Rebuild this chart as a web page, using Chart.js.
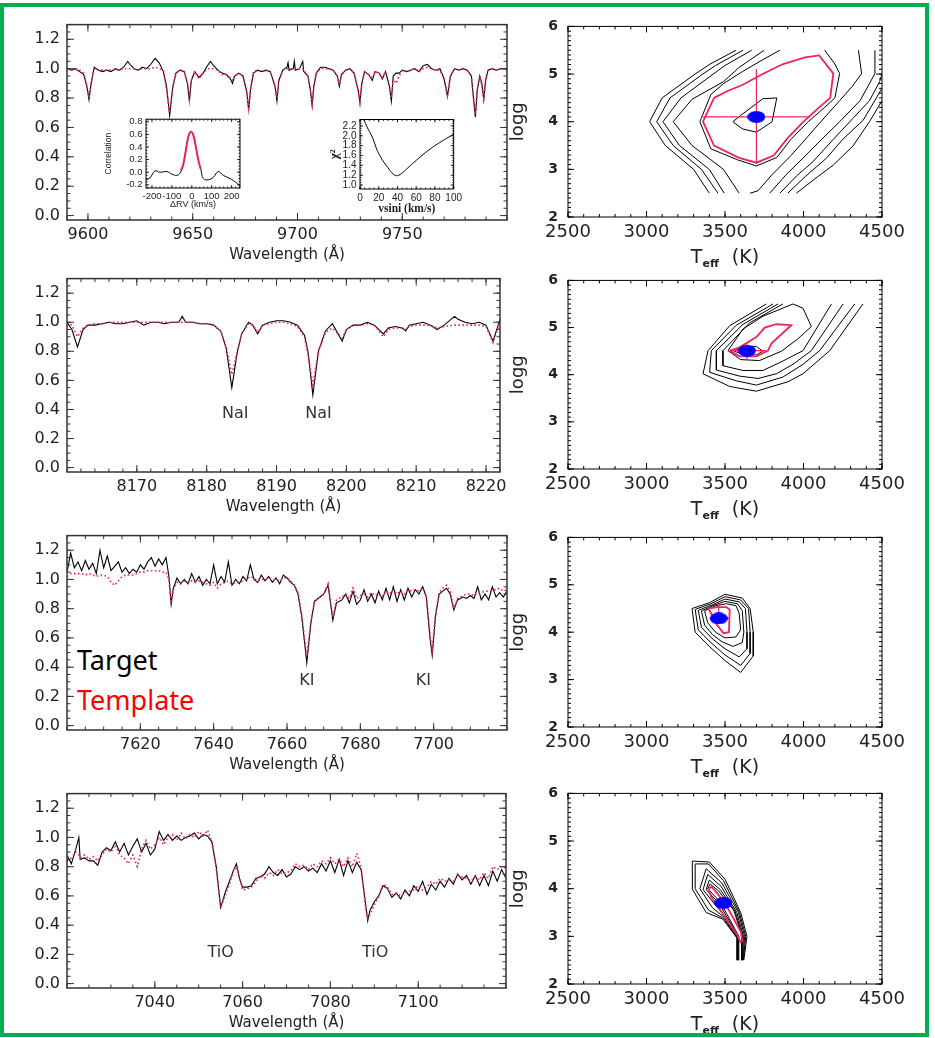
<!DOCTYPE html>
<html>
<head>
<meta charset="utf-8">
<script src="https://cdn.jsdelivr.net/npm/chart.js@4.4.0/dist/chart.umd.min.js"></script>
<style>
  body { margin: 0; background: #fff; width: 935px; height: 1038px; position: relative; overflow: hidden; }
  canvas { position: absolute; }
  #frame { position: absolute; left: 0; top: 3px; width: 929px; height: 1034px; box-sizing: border-box;
           border: 4px solid #00b050; pointer-events: none; }
  .tag { position: absolute; left: 77px; font-family: "Noto Sans", sans-serif; font-size: 27px; line-height: 27px; }
</style>
</head>
<body>
<div class="tag" style="top:646px;color:#000">Target</div>
<div class="tag" style="top:686px;color:#ff0000">Template</div>
<script>
const RED = '#f0245a';
const INK = '#222';
const SANS = '"DejaVu Sans", sans-serif';

// ---- spectrum 1 : 9590-9800 A ----
const p1Wave = [
  9590.5,9592,9594,9596,9598,9599.5,9600.5,9601.5,9603,9605,
  9607,9609,9611,9613,9615,9617,9619,9620,9622,9624,
  9626,9628,9630,9632,9634,9636,9637.5,9639,9640.5,9642,
  9644,9646,9647.5,9648.4,9649.3,9651,9653,9655,9657,9658.5,
  9660,9662,9664,9666,9668,9669,9670,9672,9674,9675.8,
  9676.7,9677.6,9679,9681,9683,9685,9687,9689.3,9690.2,9691.1,
  9693,9695,9695.5,9696,9698,9698.5,9699,9701,9702.5,9703,
  9705,9706.2,9707,9707.8,9709,9711,9713,9715,9717,9719,
  9720,9721,9723,9725,9727,9728.9,9729.8,9730.7,9732,9734,
  9735.7,9737,9739,9740.5,9742,9743.9,9744.8,9745.7,9747,9748.5,
  9750,9752,9754,9756,9758,9760,9762,9764,9766,9768,
  9770,9771.6,9773,9775,9777,9779,9781,9783,9784,9784.9,
  9785.8,9787,9788,9788.9,9789.8,9791,9793,9795,9797,9799,
  9800];
const p1Target = [
  1.00,0.99,1.00,0.98,0.96,0.88,0.79,0.90,1.01,0.99,
  0.98,0.99,0.98,1.00,0.99,1.01,1.05,1.03,1.00,0.99,
  1.01,1.00,1.03,1.07,1.04,0.98,0.88,0.68,0.88,0.97,
  0.99,0.98,0.90,0.78,0.92,0.98,0.94,0.97,1.02,1.05,
  1.02,0.99,0.97,0.96,0.93,0.90,0.95,0.97,0.95,0.84,
  0.72,0.86,0.97,0.99,0.98,0.99,0.98,0.88,0.78,0.92,
  0.99,1.01,1.04,0.99,1.00,1.05,0.99,1.00,1.05,0.98,
  0.95,0.85,0.75,0.88,0.97,1.01,1.01,1.00,0.99,0.95,
  0.88,0.96,0.99,1.00,0.97,0.86,0.77,0.90,0.98,0.96,
  0.92,0.98,0.97,0.93,0.98,0.88,0.78,0.95,0.97,0.97,
  0.99,0.98,0.99,1.00,0.98,1.02,1.03,1.00,0.99,1.00,
  0.93,0.81,0.95,1.00,0.99,1.00,0.99,0.95,0.80,0.67,
  0.85,0.95,0.90,0.79,0.92,0.99,1.00,0.99,1.00,1.00,
  0.99];
const p1Template = [
  1.00,0.99,1.00,0.99,0.97,0.88,0.80,0.90,1.00,0.99,
  0.99,0.99,0.99,0.99,0.99,1.00,1.00,1.00,1.00,0.99,
  1.00,1.00,1.00,1.01,1.00,0.99,0.86,0.70,0.87,0.97,
  0.99,0.98,0.90,0.79,0.92,0.98,0.93,0.97,1.00,1.00,
  1.00,0.99,0.96,0.96,0.94,0.92,0.95,0.97,0.95,0.84,
  0.73,0.86,0.98,0.99,0.98,0.99,0.98,0.88,0.80,0.92,
  0.99,1.00,1.00,1.00,1.00,1.00,1.00,1.00,1.00,0.99,
  0.95,0.85,0.76,0.88,0.97,1.00,1.00,1.00,0.99,0.95,
  0.89,0.96,0.99,1.00,0.97,0.86,0.77,0.90,0.98,0.96,
  0.93,0.98,0.97,0.94,0.98,0.87,0.80,0.93,0.90,0.95,
  0.99,0.98,0.99,1.00,0.98,1.00,1.01,1.00,0.99,0.99,
  0.93,0.82,0.95,1.00,0.99,1.00,0.99,0.95,0.80,0.69,
  0.86,0.95,0.88,0.80,0.92,0.99,1.00,0.99,1.00,1.00,
  1.00];
const p1Ticks = [9600, 9650, 9700, 9750];

// ---- spectrum 2 : Na I doublet ----
const p2Wave = [
  8160,8160.7,8161.5,8162.3,8163,8164,8165,8166,8167,8168,
  8169,8170,8171,8172,8173,8174,8175,8176,8176.5,8177,
  8178,8179,8180,8181,8182,8182.8,8183.6,8184.4,8185,8186,
  8186.6,8187.3,8188,8189,8190,8191,8192,8193,8194,8194.5,
  8195.2,8196,8197,8198,8199.4,8200,8201,8202,8203,8204,
  8205.3,8206,8207,8208,8208.5,8209,8210,8211,8212,8213,
  8214,8215.5,8216,8217,8218,8219,8220,8221,8222];
const p2Target = [
  1.00,0.95,0.83,0.95,0.98,0.98,0.99,1.00,0.99,0.99,
  1.00,1.01,0.98,1.00,1.00,0.99,1.00,1.00,1.04,1.00,
  1.00,0.99,0.99,0.98,0.94,0.82,0.55,0.80,0.92,1.00,
  0.98,0.92,0.98,1.00,1.01,1.01,1.00,0.98,0.91,0.80,
  0.50,0.80,0.94,0.99,0.87,0.95,0.98,0.98,1.00,0.98,
  0.92,0.96,0.97,0.96,0.94,0.98,0.99,1.00,0.98,0.95,
  0.98,1.04,1.02,1.00,0.99,1.00,0.98,0.87,1.02];
const p2Template = [
  1.00,0.98,0.90,0.96,0.98,0.99,0.99,1.00,1.00,1.00,
  1.00,1.00,1.00,1.00,1.00,1.00,1.00,1.00,1.00,1.00,
  1.00,0.99,0.99,0.98,0.94,0.83,0.64,0.80,0.92,0.99,
  0.98,0.93,0.98,0.99,1.00,1.00,0.99,0.97,0.90,0.78,
  0.57,0.80,0.93,0.96,0.89,0.95,0.98,0.98,0.99,0.98,
  0.90,0.95,0.96,0.96,0.95,0.97,0.98,0.98,0.98,0.96,
  0.97,0.98,0.98,0.98,0.98,0.98,0.97,0.86,1.00];
const p2Ticks = [8170, 8180, 8190, 8200, 8210, 8220];
const p2Notes = [['NaI', 8184.1, 0.37], ['NaI', 8196.0, 0.37]];

// ---- spectrum 3 : K I doublet ----
const p3Wave = [
  7600,7601,7602,7603,7604,7605,7606,7607,7608,7609,
  7610,7611,7612,7613,7614,7615,7616,7617,7618,7619,
  7620,7621,7622,7623,7624,7625,7626,7627,7627.8,7628.4,
  7629,7630,7631,7632,7633,7634,7635,7636,7637,7638,
  7639,7640,7641,7642,7643,7644,7645,7646,7647,7648,
  7649,7650,7651,7652,7653,7654,7655,7656,7657,7658,
  7659,7660,7661,7662,7663,7664,7665.4,7666.5,7667.5,7669,
  7670,7671.2,7672.5,7673.5,7675,7676,7677,7678,7679,7680,
  7681,7682,7683,7684,7685,7686,7687,7688,7689,7690,
  7691,7692,7693,7694,7695,7696,7697,7698,7699,7699.6,
  7700.5,7701.5,7702.5,7703.5,7704.5,7705.5,7706.5,7708,7709,7710,
  7711,7712,7713,7714,7715,7716,7717,7718,7719,7720];
const p3Target = [
  1.05,1.18,1.08,1.12,1.06,1.13,1.07,1.11,1.04,1.20,
  1.08,1.16,1.06,1.09,1.12,1.05,1.08,1.04,1.07,1.05,
  1.10,1.07,1.12,1.15,1.09,1.14,1.10,1.15,1.02,0.83,
  0.94,1.01,0.97,1.00,0.97,1.04,0.98,1.02,0.96,1.00,
  0.97,1.10,0.97,1.02,0.98,1.12,0.96,1.00,0.97,1.02,
  0.99,1.10,1.00,0.98,1.03,0.99,1.02,0.98,1.01,0.97,
  1.03,1.01,0.98,0.96,0.90,0.75,0.43,0.70,0.85,0.88,
  0.90,0.96,0.72,0.84,0.86,0.90,0.84,0.92,0.83,0.86,
  0.93,0.85,0.90,0.84,0.92,0.86,0.94,0.86,0.95,0.85,
  0.93,0.86,0.94,0.88,0.93,0.90,0.95,0.88,0.60,0.48,
  0.75,0.90,0.92,0.94,0.90,0.79,0.86,0.88,0.87,0.89,
  0.87,0.95,0.86,0.90,0.86,0.95,0.88,0.91,0.88,0.92];
const p3Template = [
  1.02,1.04,1.04,1.04,1.04,1.03,1.04,1.03,1.02,1.03,
  1.03,1.02,0.98,0.96,0.99,1.02,1.03,1.03,1.03,1.04,
  1.05,1.05,1.06,1.06,1.06,1.06,1.05,1.05,1.00,0.84,
  0.93,0.98,0.97,0.99,0.98,0.99,0.98,0.99,0.98,0.97,
  0.96,0.98,0.94,0.97,0.98,0.99,0.97,0.98,0.98,0.99,
  1.00,1.02,1.01,0.99,1.00,1.00,1.01,1.00,1.00,0.99,
  1.01,1.01,0.99,0.96,0.91,0.76,0.47,0.71,0.85,0.88,
  0.90,0.97,0.74,0.86,0.88,0.90,0.87,0.94,0.87,0.89,
  0.90,0.88,0.91,0.89,0.90,0.88,0.92,0.90,0.93,0.90,
  0.92,0.90,0.93,0.92,0.93,0.92,0.94,0.89,0.62,0.52,
  0.76,0.91,0.94,0.96,0.92,0.80,0.87,0.89,0.90,0.90,
  0.89,0.91,0.91,0.92,0.92,0.93,0.93,0.94,0.92,0.93];
const p3Ticks = [7620, 7640, 7660, 7680, 7700];
const p3Notes = [['KI', 7665.4, 0.305], ['KI', 7697.2, 0.305]];

// ---- spectrum 4 : TiO band heads ----
const p4Wave = [
  7020,7021,7022,7022.7,7023,7024,7025,7026,7027,7028,
  7029,7030,7031,7032,7033,7034,7035,7036,7037,7038,
  7039,7040,7041,7042,7043,7044,7045,7046,7047,7048,
  7049,7050,7051,7052,7053,7054,7055,7056,7057,7058,
  7058.6,7059.3,7060,7061,7062,7063,7064,7065,7066,7067,
  7068,7069,7070,7071,7072,7073,7074,7075,7076,7077,
  7078,7079,7080,7081,7082,7083,7084,7085,7086,7087,
  7088,7088.5,7089,7090,7091,7092,7093,7094,7095,7096,
  7097,7098,7099,7100,7101,7102,7103,7104,7105,7106,
  7107,7108,7109,7110,7111,7112,7113,7114,7115,7116,
  7117,7118,7119,7120];
const p4Target = [
  0.88,0.82,0.92,1.00,0.85,0.86,0.84,0.84,0.81,0.90,
  0.93,0.91,0.97,0.90,0.96,0.88,0.94,0.99,0.90,0.96,
  0.88,0.92,1.04,0.98,1.02,0.98,1.01,0.98,1.00,1.01,
  1.03,0.99,1.02,1.01,0.97,0.80,0.52,0.62,0.70,0.78,
  0.82,0.72,0.66,0.66,0.67,0.72,0.73,0.75,0.80,0.76,
  0.74,0.78,0.73,0.75,0.80,0.78,0.80,0.77,0.79,0.76,
  0.82,0.77,0.84,0.76,0.85,0.74,0.84,0.76,0.83,0.78,
  0.55,0.43,0.50,0.56,0.60,0.67,0.65,0.59,0.62,0.58,
  0.64,0.60,0.67,0.63,0.70,0.61,0.68,0.64,0.70,0.66,
  0.72,0.68,0.75,0.71,0.74,0.68,0.74,0.67,0.74,0.67,
  0.77,0.70,0.78,0.72];
const p4Template = [
  0.84,0.86,0.90,0.88,0.86,0.88,0.85,0.87,0.84,0.88,
  0.92,0.90,0.95,0.88,0.86,0.82,0.88,0.80,0.92,0.98,
  0.92,0.95,1.00,0.95,1.00,1.02,0.98,1.03,0.99,1.02,
  1.00,1.04,1.01,1.05,0.97,0.78,0.52,0.60,0.68,0.78,
  0.80,0.72,0.64,0.65,0.66,0.70,0.74,0.72,0.76,0.74,
  0.78,0.75,0.76,0.77,0.82,0.80,0.81,0.78,0.82,0.80,
  0.84,0.82,0.86,0.82,0.85,0.80,0.86,0.80,0.89,0.80,
  0.52,0.45,0.47,0.54,0.60,0.68,0.66,0.61,0.62,0.60,
  0.62,0.63,0.64,0.67,0.64,0.66,0.70,0.68,0.72,0.70,
  0.71,0.70,0.74,0.73,0.72,0.70,0.73,0.71,0.76,0.72,
  0.80,0.78,0.80,0.79];
const p4Ticks = [7040, 7060, 7080, 7100];
const p4Notes = [['TiO', 7055.0, 0.21], ['TiO', 7090.2, 0.21]];

const fluxTicks = [0, 0.2, 0.4, 0.6, 0.8, 1.0, 1.2];

// ---- insets of panel 1 ----
const rvX = [-230,-210,-185,-160,-125,-100,-75,-58,-50,-40,-30,-20,-10,-3,5,15,25,35,45,58,83,108,133,158,192,225,242];
const rvCorr = [-0.12,-0.09,0.02,0.0,0.01,-0.03,-0.05,-0.01,0.05,0.17,0.35,0.53,0.63,0.64,0.61,0.49,0.32,0.16,0.05,-0.10,-0.12,-0.08,0.01,-0.05,-0.10,-0.17,-0.22];
const fitX = [-55,-45,-35,-25,-15,-5,5,15,25,35,45];
const fitCorr = [0.03,0.10,0.25,0.44,0.59,0.64,0.61,0.49,0.32,0.16,0.05];
const vsiniX = [4,8,13,18,22,26,30,34,39,44,50,60,70,80,90,100];
const chi2 = [2.33,2.16,1.98,1.72,1.57,1.45,1.35,1.25,1.19,1.23,1.33,1.50,1.66,1.80,1.92,2.03];

// ---- Teff / logg chi2 maps: contour polylines [Teff, logg] ----
const teffTicks = [2500, 3000, 3500, 4000, 4500];
const loggTicks = [2, 3, 4, 5, 6];

const r1Black = [
  [[3570,5.5],[3400,5.2],[3310,5.0],[3100,4.5],[3020,4.0],[3120,3.5],[3300,3.0],[3400,2.5]],
  [[3615,5.5],[3440,5.18],[3350,4.98],[3150,4.5],[3065,4.0],[3170,3.5],[3350,3.0],[3455,2.5]],
  [[3670,5.5],[3500,5.18],[3400,4.94],[3220,4.5],[3105,4.0],[3210,3.5],[3400,3.0],[3495,2.5]],
  [[3750,5.5],[3590,5.14],[3490,4.84],[3290,4.47],[3170,4.0],[3290,3.5],[3490,3.0],[3590,2.5]],
  [[3850,5.5],[3740,5.3],[3610,5.05],[3490,4.8],[3410,4.57],[3340,4.0],[3410,3.43],[3580,3.2],[3700,3.07],[3830,3.25],[3920,3.63],[4030,4.0],[4135,4.3],[4200,4.5],[4230,5.01],[4200,5.21],[4135,5.5]],
  [[3550,4.0],[3615,4.17],[3740,4.48],[3830,4.5],[3800,4.0],[3700,3.78],[3610,3.85],[3550,4.0]],
  [[3660,2.5],[3710,2.55],[3800,2.89],[3920,3.29],[4020,3.66],[4110,4.0],[4230,4.44],[4310,4.74],[4370,5.01],[4350,5.5]],
  [[3785,2.5],[3890,2.89],[3995,3.23],[4125,3.66],[4230,4.0],[4360,4.44],[4455,5.01],[4455,5.5]],
  [[3850,2.5],[3955,2.86],[4060,3.16],[4190,3.63],[4315,4.07],[4420,4.44],[4485,4.84],[4500,5.01]],
  [[3900,2.5],[4015,2.86],[4145,3.23],[4250,3.63],[4380,4.03],[4500,4.7]],
  [[3955,2.5],[4080,2.82],[4190,3.09],[4315,3.49],[4420,4.0],[4500,4.44]]
];
const r1Red = [[3430,4.5],[3360,4.0],[3430,3.5],[3590,3.24],[3700,3.14],[3810,3.29],[3900,3.66],[4000,4.0],[4100,4.3],[4170,4.5],[4190,5.01],[4100,5.39],[4010,5.35],[3870,5.21],[3740,5.0],[3610,4.77],[3520,4.65],[3430,4.5]];
const r1Cross = [[[3700,3.12],[3700,5.1]], [[3360,4.1],[4040,4.1]]];
const r1Best = [3700, 4.1];

const r2Black = [
  [[3763,5.5],[3530,5.04],[3392,4.51],[3360,4.02],[3530,3.75],[3700,3.65],[3901,3.85],[3997,4.02],[4167,4.51],[4379,5.5]],
  [[3806,5.5],[3572,5.05],[3413,4.51],[3402,4.05],[3572,3.87],[3700,3.78],[3869,3.95],[3997,4.22],[4103,4.51],[4326,5.5]],
  [[3838,5.5],[3615,5.07],[3445,4.51],[3445,4.1],[3593,3.97],[3710,3.92],[3827,4.02],[3933,4.22],[4050,4.51],[4252,5.5]],
  [[3869,5.5],[3657,5.1],[3487,4.51],[3487,4.19],[3615,4.09],[3742,4.09],[3869,4.29],[3997,4.51],[4178,5.5]],
  [[3933,5.5],[3742,5.24],[3615,4.97],[3519,4.51],[3600,4.32],[3720,4.3],[3860,4.5],[3960,4.75],[4050,5.02],[3997,5.41],[3933,5.5]],
  [[3560,4.5],[3620,4.6],[3700,4.6],[3740,4.5],[3700,4.42],[3620,4.42],[3560,4.5]]
];
const r2Red = [[3530,4.51],[3593,4.58],[3700,4.8],[3753,5.0],[3827,5.07],[3922,5.05],[3795,4.66],[3774,4.51],[3700,4.39],[3593,4.39],[3530,4.51]];
const r2Cross = [[[3640,4.33],[3640,4.67]], [[3530,4.51],[3760,4.51]]];
const r2Best = [3640, 4.51];

const r3Black = [
  [[3290,4.5],[3400,4.62],[3500,4.8],[3610,4.72],[3660,4.5],[3680,4.0],[3680,3.5],[3600,3.15],[3500,3.4],[3400,3.7],[3310,4.0],[3290,4.5]],
  [[3310,4.48],[3410,4.6],[3500,4.75],[3600,4.68],[3650,4.5],[3660,4.0],[3660,3.55],[3600,3.3],[3500,3.52],[3410,3.78],[3330,4.05],[3310,4.48]],
  [[3330,4.46],[3420,4.58],[3500,4.7],[3590,4.64],[3630,4.5],[3640,4.0],[3640,3.65],[3590,3.48],[3500,3.65],[3420,3.86],[3350,4.1],[3330,4.46]],
  [[3350,4.45],[3430,4.57],[3500,4.65],[3580,4.6],[3610,4.45],[3620,4.0],[3610,3.78],[3550,3.7],[3480,3.8],[3420,3.95],[3370,4.15],[3350,4.45]],
  [[3370,4.45],[3440,4.56],[3510,4.6],[3570,4.56],[3590,4.4],[3600,4.05],[3570,3.9],[3500,3.88],[3440,4.0],[3390,4.2],[3370,4.45]]
];
const r3Red = [[3395,4.5],[3450,4.53],[3510,4.53],[3530,4.47],[3525,4.0],[3490,3.98],[3450,4.15],[3395,4.5]];
const r3Cross = [[[3460,4.17],[3460,4.59]], [[3400,4.29],[3530,4.29]]];
const r3Best = [3460, 4.29];

const r4Black = [
  [[3575,2.5],[3575,2.97],[3487,3.36],[3380,3.5],[3290,4.0],[3292,4.58],[3400,4.56],[3500,4.2],[3600,3.5],[3640,3.0],[3620,2.5]],
  [[3578,2.5],[3578,2.97],[3490,3.38],[3395,3.55],[3310,4.0],[3310,4.52],[3395,4.52],[3490,4.17],[3592,3.5],[3632,3.0],[3617,2.5]],
  [[3580,2.5],[3580,2.98],[3495,3.4],[3420,3.6],[3340,4.0],[3380,4.42],[3480,4.12],[3585,3.5],[3625,3.0],[3614,2.5]],
  [[3582,2.5],[3582,2.98],[3500,3.42],[3440,3.65],[3360,3.98],[3390,4.3],[3475,4.05],[3575,3.5],[3618,3.0],[3611,2.5]],
  [[3584,2.5],[3584,3.0],[3505,3.45],[3460,3.7],[3380,3.98],[3400,4.18],[3470,3.98],[3565,3.52],[3612,3.0],[3608,2.5]],
  [[3586,2.5],[3588,3.0],[3510,3.48],[3470,3.72],[3390,4.0],[3405,4.1],[3460,3.95],[3555,3.55],[3605,3.05],[3605,2.5]]
];
const r4Red = [[3395,4.0],[3415,4.04],[3500,3.7],[3600,3.1],[3612,2.9],[3598,2.88],[3580,3.02],[3497,3.42],[3412,3.83],[3395,4.0]];
const r4Cross = [[[3490,3.55],[3490,3.85]], [[3440,3.7],[3540,3.7]]];
const r4Best = [3490, 3.7];

// ---------------------------------------------------------------

function place(left, top, w, h) {
  const c = document.createElement('canvas');
  c.width = w; c.height = h;
  c.style.left = left + 'px';
  c.style.top = top + 'px';
  document.body.appendChild(c);
  return c;
}

function pts(xs, ys) { return xs.map((x, i) => ({x: x, y: ys[i]})); }
function pairs(list) { return list.map(p => ({x: p[0], y: p[1]})); }

// box with inward major/minor ticks on all four sides, IDL style
const idlFrame = {
  id: 'idlFrame',
  afterDatasetsDraw(chart, args, o) {
    const ctx = chart.ctx, a = chart.chartArea;
    const x = chart.scales.x, y = chart.scales.y;
    const each = (s, step, fn) => {
      for (let k = Math.ceil(s.min / step - 1e-6); k * step <= s.max + 1e-6; k++) fn(k * step);
    };
    const xt = (v, len) => {
      const p = x.getPixelForValue(v);
      ctx.moveTo(p, a.bottom); ctx.lineTo(p, a.bottom - len);
      ctx.moveTo(p, a.top); ctx.lineTo(p, a.top + len);
    };
    const yt = (v, len) => {
      const p = y.getPixelForValue(v);
      ctx.moveTo(a.left, p); ctx.lineTo(a.left + len, p);
      ctx.moveTo(a.right, p); ctx.lineTo(a.right - len, p);
    };
    ctx.save();
    ctx.strokeStyle = o.color;
    ctx.lineWidth = o.tickWidth;
    ctx.beginPath();
    each(x, o.xMinor, v => xt(v, o.minor));
    each(y, o.yMinor, v => yt(v, o.minor));
    x.ticks.forEach(t => xt(t.value, o.major));
    y.ticks.forEach(t => yt(t.value, o.major));
    ctx.stroke();
    ctx.lineWidth = o.width;
    ctx.strokeRect(a.left, a.top, a.width, a.height);
    ctx.restore();
  }
};

function notes(items) {
  return {
    id: 'notes',
    afterDatasetsDraw(chart) {
      const ctx = chart.ctx, x = chart.scales.x, y = chart.scales.y;
      ctx.save();
      ctx.fillStyle = '#333';
      ctx.font = '16px ' + SANS;
      ctx.textAlign = 'center';
      ctx.textBaseline = 'middle';
      items.forEach(n => ctx.fillText(n[0], x.getPixelForValue(n[1]), y.getPixelForValue(n[2])));
      ctx.restore();
    }
  };
}

// "T_eff (K)" with a subscript, under the right-hand maps
const teffTitle = {
  id: 'teffTitle',
  afterDraw(chart) {
    const ctx = chart.ctx, a = chart.chartArea;
    const base = a.bottom + 46, cx = (a.left + a.right) / 2;
    const big = '19px ' + SANS, small = 'bold 11px ' + SANS, gap = 13;
    ctx.save();
    ctx.fillStyle = INK;
    ctx.font = big;
    const wT = ctx.measureText('T').width, wK = ctx.measureText('(K)').width;
    ctx.font = small;
    const wE = ctx.measureText('eff').width;
    const x0 = cx - (wT + wE + gap + wK) / 2;
    ctx.font = big; ctx.fillText('T', x0, base);
    ctx.font = small; ctx.fillText('eff', x0 + wT, base + 4);
    ctx.font = big; ctx.fillText('(K)', x0 + wT + wE + gap, base);
    ctx.restore();
  }
};

function axis(o) {
  return {
    type: 'linear', min: o.min, max: o.max,
    grid: {display: false, drawTicks: false}, border: {display: false},
    afterBuildTicks: s => { s.ticks = o.ticks.map(v => ({value: v})); },
    afterFit: s => { if (o.w !== undefined) s.width = o.w; if (o.h !== undefined) s.height = o.h; },
    ticks: {autoSkip: false, maxRotation: 0, padding: o.pad, color: INK, font: o.font, callback: o.fmt},
    title: o.title ? {display: true, text: o.title, color: INK, font: o.titleFont, padding: 0} : {display: false}
  };
}

function baseOptions(pad, x, y, frame) {
  return {
    responsive: false, animation: false, devicePixelRatio: 1,
    layout: {padding: {left: 0, bottom: 0, top: pad[0], right: pad[1]}},
    elements: {point: {radius: 0}, line: {tension: 0}},
    plugins: {legend: {display: false}, tooltip: {enabled: false}, idlFrame: frame},
    scales: {x: x, y: y}
  };
}

function spectrum(box, range, xTicks, xMinor, wave, target, template, labels) {
  const canvas = place(0, box.top, 520, box.pt + box.plotH + 44);
  const plugins = [idlFrame];
  if (labels) plugins.push(notes(labels));
  return new Chart(canvas, {
    type: 'scatter',
    data: {datasets: [
      {data: pts(wave, template), showLine: true, borderColor: RED, borderWidth: 1.6, borderDash: [1.6, 2.4]},
      {data: pts(wave, target), showLine: true, borderColor: '#000', borderWidth: 1.1}
    ]},
    options: baseOptions([box.pt, box.pr],
      axis({min: range[0], max: range[1], ticks: xTicks, h: 44, pad: 5, font: {family: SANS, size: 16},
            fmt: v => String(v), title: 'Wavelength (Å)', titleFont: {family: SANS, size: 15}}),
      axis({min: -0.03, max: 1.3, ticks: fluxTicks, w: 67, pad: 7, font: {family: SANS, size: 16},
            fmt: v => v.toFixed(1)}),
      {color: '#333', width: 1.5, tickWidth: 1, major: 7, minor: 3.5, xMinor: xMinor, yMinor: 0.05}),
    plugins: plugins
  });
}

// filled blue ellipse used as the best-fit marker
const dot = document.createElement('canvas');
dot.width = 18; dot.height = 12;
const dctx = dot.getContext('2d');
dctx.fillStyle = '#0000ff';
dctx.beginPath();
dctx.ellipse(9, 6, 9, 6, 0, 0, Math.PI * 2);
dctx.fill();

function gridMap(box, lines, red, cross, best) {
  const canvas = place(508, box.top, 425, box.pt + box.plotH + 52);
  const sets = [{data: [{x: best[0], y: best[1]}], pointStyle: dot, pointRadius: 6, showLine: false}];
  cross.forEach(seg => sets.push({data: pairs(seg), showLine: true, borderColor: RED, borderWidth: 1.2}));
  sets.push({data: pairs(red), showLine: true, borderColor: RED, borderWidth: 1.8});
  lines.forEach(l => sets.push({data: pairs(l), showLine: true, borderColor: '#000', borderWidth: 1}));
  return new Chart(canvas, {
    type: 'scatter',
    data: {datasets: sets},
    options: baseOptions([box.pt, 51],
      axis({min: 2500, max: 4500, ticks: teffTicks, h: 52, pad: 5, font: {family: SANS, size: 18},
            fmt: v => String(v)}),
      axis({min: 2, max: 6, ticks: loggTicks, w: 60, pad: 10, font: {family: SANS, size: 14, weight: 'bold'},
            fmt: v => String(v), title: 'logg', titleFont: {family: SANS, size: 18}}),
      {color: '#000', width: 1, tickWidth: 1, major: 6, minor: 3, xMinor: 100, yMinor: 0.1}),
    plugins: [idlFrame, teffTitle]
  });
}

spectrum({top: 8, pt: 11, plotH: 201, pr: 13}, [9590, 9800], p1Ticks, 10, p1Wave, p1Target, p1Template);
spectrum({top: 262, pt: 10, plotH: 200, pr: 20}, [8160, 8222], p2Ticks, 2, p2Wave, p2Target, p2Template, p2Notes);
spectrum({top: 519, pt: 10, plotH: 201, pr: 13}, [7600, 7720], p3Ticks, 5, p3Wave, p3Target, p3Template, p3Notes);
spectrum({top: 777, pt: 10, plotH: 201, pr: 14}, [7020, 7120], p4Ticks, 5, p4Wave, p4Target, p4Template, p4Notes);

gridMap({top: 8, pt: 11, plotH: 198}, r1Black, r1Red, r1Cross, r1Best);
gridMap({top: 262, pt: 11, plotH: 196}, r2Black, r2Red, r2Cross, r2Best);
gridMap({top: 519, pt: 10, plotH: 198}, r3Black, r3Red, r3Cross, r3Best);
gridMap({top: 775, pt: 10, plotH: 199}, r4Black, r4Red, r4Cross, r4Best);

const SMALL = '"Liberation Sans", sans-serif';
const SERIF = '"Liberation Serif", serif';

// cross-correlation inset
new Chart(place(104, 110, 144, 100), {
  type: 'scatter',
  data: {datasets: [
    {data: pts(fitX, fitCorr), showLine: true, borderColor: RED, borderWidth: 2, tension: 0.4},
    {data: pts(rvX, rvCorr), showLine: true, borderColor: '#000', borderWidth: 1, tension: 0.4}
  ]},
  options: baseOptions([7, 8],
    axis({min: -230, max: 242, ticks: [-200, -100, 0, 100, 200], h: 22, pad: 3,
          font: {family: SMALL, size: 9.5}, fmt: v => String(v),
          title: 'ΔRV (km/s)', titleFont: {family: SMALL, size: 9}}),
    axis({min: -0.25, max: 0.84, ticks: [-0.2, 0, 0.2, 0.4, 0.6, 0.8], w: 42, pad: 3.5,
          font: {family: SMALL, size: 9.5}, fmt: v => v.toFixed(1),
          title: 'Correlation', titleFont: {family: SMALL, size: 8.5}}),
    {color: '#000', width: 1, tickWidth: 0.8, major: 3, minor: 1.5, xMinor: 20, yMinor: 0.05}),
  plugins: [idlFrame]
});

// vsini chi-square inset
new Chart(place(327, 110, 138, 106), {
  type: 'scatter',
  data: {datasets: [
    {data: pts(vsiniX, chi2), showLine: true, borderColor: '#000', borderWidth: 1, tension: 0.4}
  ]},
  options: baseOptions([7, 10],
    axis({min: 0, max: 100, ticks: [0, 20, 40, 60, 80, 100], h: 27, pad: 3,
          font: {family: SMALL, size: 10}, fmt: v => String(v),
          title: 'vsini (km/s)', titleFont: {family: SERIF, size: 11.5, weight: 'bold'}}),
    axis({min: 0.92, max: 2.33, ticks: [1.0, 1.2, 1.4, 1.6, 1.8, 2.0, 2.2], w: 33, pad: 3.5,
          font: {family: SMALL, size: 10}, fmt: v => v.toFixed(1),
          title: 'χ²', titleFont: {family: SERIF, size: 13, weight: 'bold'}}),
    {color: '#000', width: 1, tickWidth: 0.8, major: 3, minor: 1.5, xMinor: 5, yMinor: 0.05}),
  plugins: [idlFrame]
});
</script>
<div id="frame"></div>
</body>
</html>
